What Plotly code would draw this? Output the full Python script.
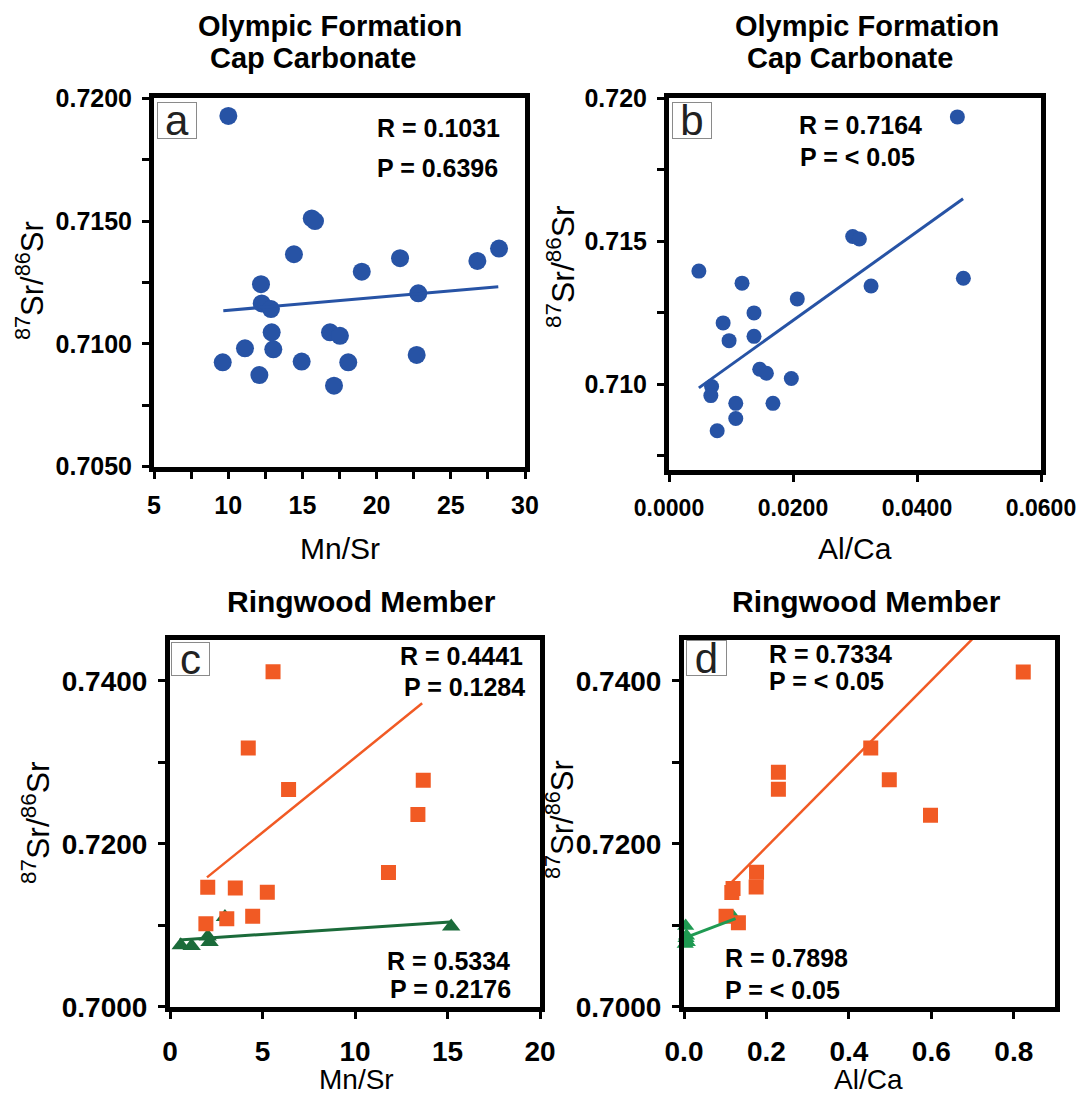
import plotly.graph_objects as go

# ---------------- DATA ----------------
# Panel a: Olympic Formation Cap Carbonate, Mn/Sr vs 87Sr/86Sr
a_mnsr = [10.01, 15.63, 15.85, 14.43, 21.58, 26.79, 28.25, 19.00, 12.21, 22.81, 12.26, 12.88,
          12.93, 11.13, 13.04, 16.86, 17.53, 9.63, 14.95, 18.09, 22.70, 12.10, 17.13]
a_sr = [0.71928, 0.71511, 0.71500, 0.71365, 0.71349, 0.71338, 0.71388, 0.71294, 0.71243, 0.71206,
        0.71165, 0.71142, 0.71047, 0.70982, 0.70978, 0.71047, 0.71033, 0.70925, 0.70928, 0.70925,
        0.70955, 0.70873, 0.70830]
a_fit_x = [9.67, 28.20]
a_fit_y = [0.71135, 0.71233]

# Panel b: Olympic Formation Cap Carbonate, Al/Ca vs 87Sr/86Sr
b_alca = [0.04651, 0.02963, 0.03071, 0.00482, 0.04748, 0.01178, 0.03259, 0.02069, 0.01371, 0.00873,
          0.01371, 0.00969, 0.01463, 0.01571, 0.01973, 0.00687, 0.00675, 0.01077, 0.01677, 0.01077,
          0.00777]
b_sr = [0.71934, 0.71516, 0.71507, 0.71395, 0.71370, 0.71353, 0.71343, 0.71298, 0.71249, 0.71214,
        0.71167, 0.71152, 0.71052, 0.71038, 0.71020, 0.70992, 0.70960, 0.70933, 0.70933, 0.70880,
        0.70837]
b_fit_x = [0.00482, 0.04743]
b_fit_y = [0.70987, 0.71648]

# Panel c: Ringwood Member, Mn/Sr vs 87Sr/86Sr
c_orange_x = [5.57, 4.23, 6.41, 13.69, 13.40, 11.81, 2.04, 3.53, 5.26, 1.94, 3.07, 4.47]
c_orange_y = [0.74110, 0.73174, 0.72665, 0.72779, 0.72360, 0.71648, 0.71465, 0.71457, 0.71404,
              0.71017, 0.71078, 0.71111]
c_green_x = [0.58, 1.17, 2.04, 2.14, 15.20, 2.97]
c_green_y = [0.70753, 0.70745, 0.70863, 0.70793, 0.70985, 0.71100]
c_orange_fit_x = [2.00, 13.63]
c_orange_fit_y = [0.71587, 0.73723]
c_green_fit_x = [0.50, 15.15]
c_green_fit_y = [0.70820, 0.71040]

# Panel d: Ringwood Member, Al/Ca vs 87Sr/86Sr
d_orange_x = [0.823, 0.453, 0.229, 0.229, 0.498, 0.598, 0.176, 0.175, 0.119, 0.116, 0.102, 0.132]
d_orange_y = [0.74106, 0.73176, 0.72876, 0.72669, 0.72786, 0.72348, 0.71650, 0.71468, 0.71449,
              0.71400, 0.71110, 0.71030]
d_green_x = [0.004, 0.006, 0.003, 0.008, 0.005, 0.120]
d_green_y = [0.70990, 0.70870, 0.70770, 0.70790, 0.70840, 0.71100]
d_orange_fit_x = [0.114, 0.823]
d_orange_fit_y = [0.71520, 0.75143]
d_green_fit_x = [0.005, 0.125]
d_green_fit_y = [0.70850, 0.71080]

titles_top = ["Olympic Formation", "Cap Carbonate"]
title_bottom = "Ringwood Member"
stats = {
    "a": ["R = 0.1031", "P = 0.6396"],
    "b": ["R = 0.7164", "P = < 0.05"],
    "c1": ["R = 0.4441", "P = 0.1284"],
    "c2": ["R = 0.5334", "P = 0.2176"],
    "d1": ["R = 0.7334", "P = < 0.05"],
    "d2": ["R = 0.7898", "P = < 0.05"],
}

# ---------------- STYLE ----------------
# the page body has an 8px margin, so the figure is drawn 8px in from the window corner
OFF = 8
W, H = 1084 - OFF, 1100 - 2 * OFF
FONT = "Liberation Sans"
BLUE = "#2753A5"
ORANGE = "#F15A24"
DGREEN = "#1B6B3A"
LGREEN = "#1F9A52"


def px(x):
    return (x - OFF) / W


def py(y):
    return 1 - (y - OFF) / H


fig = go.Figure()

# panel a
fig.add_trace(go.Scatter(x=a_mnsr, y=a_sr, mode="markers", xaxis="x", yaxis="y",
                         marker=dict(symbol="circle", size=18, color=BLUE)))
fig.add_trace(go.Scatter(x=a_fit_x, y=a_fit_y, mode="lines", xaxis="x", yaxis="y",
                         line=dict(color=BLUE, width=3)))
# panel b
fig.add_trace(go.Scatter(x=b_alca, y=b_sr, mode="markers", xaxis="x2", yaxis="y2",
                         marker=dict(symbol="circle", size=15, color=BLUE)))
fig.add_trace(go.Scatter(x=b_fit_x, y=b_fit_y, mode="lines", xaxis="x2", yaxis="y2",
                         line=dict(color=BLUE, width=3)))
# panel c
fig.add_trace(go.Scatter(x=c_green_x, y=c_green_y, mode="markers", xaxis="x3", yaxis="y3",
                         marker=dict(symbol="triangle-up", size=16, color=DGREEN)))
fig.add_trace(go.Scatter(x=c_green_fit_x, y=c_green_fit_y, mode="lines", xaxis="x3", yaxis="y3",
                         line=dict(color=DGREEN, width=3)))
fig.add_trace(go.Scatter(x=c_orange_x, y=c_orange_y, mode="markers", xaxis="x3", yaxis="y3",
                         marker=dict(symbol="square", size=15, color=ORANGE)))
fig.add_trace(go.Scatter(x=c_orange_fit_x, y=c_orange_fit_y, mode="lines", xaxis="x3", yaxis="y3",
                         line=dict(color=ORANGE, width=2.5)))
# panel d
fig.add_trace(go.Scatter(x=d_green_x, y=d_green_y, mode="markers", xaxis="x4", yaxis="y4",
                         marker=dict(symbol="triangle-up", size=15, color=LGREEN), cliponaxis=False))
fig.add_trace(go.Scatter(x=d_orange_x, y=d_orange_y, mode="markers", xaxis="x4", yaxis="y4",
                         marker=dict(symbol="square", size=15, color=ORANGE)))
fig.add_trace(go.Scatter(x=d_orange_fit_x, y=d_orange_fit_y, mode="lines", xaxis="x4", yaxis="y4",
                         line=dict(color=ORANGE, width=2.5)))
fig.add_trace(go.Scatter(x=d_green_fit_x, y=d_green_fit_y, mode="lines", xaxis="x4", yaxis="y4",
                         line=dict(color=LGREEN, width=3)))


def axis(domain, rng, tickvals, fmt, size, minor=None, anchor=None, standoff=None):
    d = dict(domain=domain, range=rng, tickvals=tickvals, tickformat=fmt,
             showline=True, linecolor="black", linewidth=5, mirror=True,
             ticks="outside", ticklen=7, tickwidth=3, tickcolor="black",
             showgrid=False, zeroline=False, anchor=anchor, automargin=False,
             tickfont=dict(family=FONT, size=size, color="black", weight="bold"))
    if standoff is not None:
        d["ticklabelstandoff"] = standoff
    if minor is not None:
        d["minor"] = dict(tickvals=minor, ticks="outside", ticklen=7, tickwidth=3,
                          tickcolor="black", showgrid=False)
    return d


layout = dict(
    width=W, height=H, margin=dict(l=0, r=0, t=0, b=0, pad=0, autoexpand=False),
    paper_bgcolor="white", plot_bgcolor="white", showlegend=False,
    xaxis=axis([px(154), px(525)], [5, 30], [5, 10, 15, 20, 25, 30], "d", 25,
               minor=[7.5, 12.5, 17.5, 22.5, 27.5], anchor="y", standoff=5),
    yaxis=axis([py(466.7), py(98.3)], [0.705, 0.720], [0.705, 0.710, 0.715, 0.720], ".4f", 25,
               minor=[0.7075, 0.7125, 0.7175], anchor="x", standoff=5),
    xaxis2=axis([px(669), px(1041)], [0.0, 0.06], [0.0, 0.02, 0.04, 0.06], ".4f", 23,
                anchor="y2", standoff=6),
    yaxis2=axis([py(470), py(98)], [0.707, 0.720], [0.710, 0.715, 0.720], ".3f", 25,
                minor=[0.7075, 0.7125, 0.7175], anchor="x2", standoff=5),
    xaxis3=axis([px(170), px(540)], [0, 20], [0, 5, 10, 15, 20], "d", 28, anchor="y3", standoff=9),
    yaxis3=axis([py(1006.7), py(640)], [0.700, 0.745], [0.700, 0.720, 0.740], ".4f", 28,
                minor=[0.710, 0.730], anchor="x3", standoff=5),
    xaxis4=axis([px(684), px(1055)], [0, 0.9], [0.0, 0.2, 0.4, 0.6, 0.8], ".1f", 28,
                anchor="y4", standoff=9),
    yaxis4=axis([py(1006.7), py(640)], [0.700, 0.745], [0.700, 0.720, 0.740], ".4f", 28,
                minor=[0.710, 0.730], anchor="x4", standoff=5),
)
fig.update_layout(**layout)

ann = []


def text(x, y, t, size, bold=True, xanchor="center", angle=0):
    ann.append(dict(x=px(x), y=py(y), xref="paper", yref="paper", text=t, showarrow=False,
                    xanchor=xanchor, yanchor="middle", textangle=angle,
                    font=dict(family=FONT, size=size, color="black",
                              weight="bold" if bold else "normal")))


# titles
text(330, 26, titles_top[0], 29)
text(313, 58, titles_top[1], 29)
text(867, 26, titles_top[0], 29)
text(850, 58, titles_top[1], 29)
text(361, 601, title_bottom, 30)
text(866, 601, title_bottom, 30)

# axis titles
text(340, 548, "Mn/Sr", 30, bold=False)
text(855, 548, "Al/Ca", 30, bold=False)
text(356, 1079, "Mn/Sr", 28, bold=False)
text(868, 1079, "Al/Ca", 28, bold=False)
ylab = '<sup style="font-size:75%">87</sup>Sr/<sup style="font-size:75%">86</sup>Sr'
text(30, 281, ylab, 31, bold=False, angle=-90)
text(561, 267, ylab, 32, bold=False, angle=-90)
text(36, 823, ylab, 32, bold=False, angle=-90)
text(560, 820, ylab, 31, bold=False, angle=-90)

# statistics
text(502, 128, stats["a"][0], 25, xanchor="right")
text(500, 168, stats["a"][1], 25, xanchor="right")
text(797, 125, stats["b"][0], 25, xanchor="left")
text(798, 157, stats["b"][1], 25, xanchor="left")
text(525, 656, stats["c1"][0], 25, xanchor="right")
text(527, 687, stats["c1"][1], 25, xanchor="right")
text(512, 961, stats["c2"][0], 25, xanchor="right")
text(513, 989, stats["c2"][1], 25, xanchor="right")
text(767, 654, stats["d1"][0], 25, xanchor="left")
text(767, 681, stats["d1"][1], 25, xanchor="left")
text(723, 958, stats["d2"][0], 25, xanchor="left")
text(723, 990, stats["d2"][1], 25, xanchor="left")

# panel letter boxes
for letter, (x0, y0, w, h) in {"a": (157, 102, 38, 35), "b": (672, 102, 38, 35),
                               "c": (171, 642, 37, 32), "d": (686, 640, 39, 34)}.items():
    ann.append(dict(x=px(x0), y=py(y0), xref="paper", yref="paper", text=letter,
                    showarrow=False, xanchor="left", yanchor="top", width=w, height=h,
                    align="center", valign="middle", bordercolor="#8a8a8a", borderwidth=1,
                    borderpad=0, bgcolor="white",
                    font=dict(family=FONT, size=42, color="#222222")))

fig.update_layout(annotations=ann)
fig.write_html("out.html")
